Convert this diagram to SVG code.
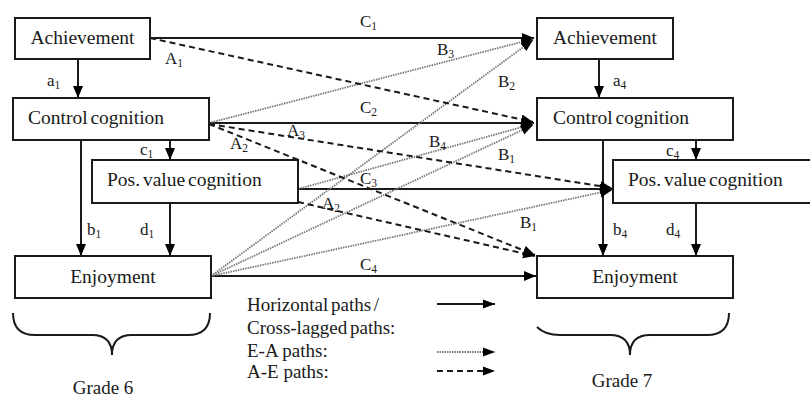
<svg xmlns="http://www.w3.org/2000/svg" width="810" height="397" viewBox="0 0 810 397" font-family="'Times New Roman', 'Liberation Serif', 'DejaVu Serif', serif">
<style>
text{font-family:'Times New Roman','Liberation Serif',serif}
.box{fill:#fff;stroke:#1a1a1a;stroke-width:2}
.lbl{font-size:19.5px;fill:#1a1a1a}
.pl{font-size:17px;fill:#1a1a1a}
.sub{font-size:11.5px}
.leg{font-size:19px;fill:#1a1a1a}
.solid{stroke:#1a1a1a;stroke-width:2;fill:none;marker-end:url(#ah)}
.ea{stroke:#777;stroke-width:1.8;stroke-dasharray:1.5 1;fill:none;marker-end:url(#ah)}
.ae{stroke:#1a1a1a;stroke-width:2;stroke-dasharray:6 4;fill:none;marker-end:url(#ah)}
.brace{stroke:#1a1a1a;stroke-width:2;fill:none}
</style>
<defs>
<marker id="ah" markerUnits="userSpaceOnUse" markerWidth="13" markerHeight="11" refX="12" refY="5" orient="auto">
<path d="M0,0 L12,5 L0,10 z" fill="#000"/>
</marker>
<marker id="ahs" markerUnits="userSpaceOnUse" markerWidth="13" markerHeight="11" refX="12" refY="5" orient="auto">
<path d="M0,0.5 L12,5 L0,9.5 z" fill="#000"/>
</marker>
</defs>

<g id="connectors">
<line class="solid" x1="78" y1="59" x2="78" y2="98"/>
<line class="solid" x1="170" y1="140" x2="170" y2="160"/>
<line class="solid" x1="81" y1="140" x2="81" y2="256"/>
<line class="solid" x1="170" y1="203" x2="170" y2="256"/>
<line class="solid" x1="599" y1="59" x2="599" y2="98"/>
<line class="solid" x1="696" y1="140" x2="696" y2="160"/>
<line class="solid" x1="603" y1="140" x2="603" y2="256"/>
<line class="solid" x1="696" y1="203" x2="696" y2="256"/>
<line class="solid" x1="150" y1="38" x2="534" y2="38"/>
<line class="solid" x1="209" y1="123" x2="534" y2="123"/>
<line class="solid" x1="298" y1="189" x2="612" y2="189"/>
<line class="solid" x1="211" y1="276" x2="536" y2="276"/>
<line class="ea" x1="209" y1="123" x2="533" y2="39"/>
<line class="ea" x1="211" y1="276" x2="533" y2="40"/>
<line class="ea" x1="298" y1="189" x2="533" y2="124"/>
<line class="ea" x1="211" y1="276" x2="533" y2="125"/>
<line class="ea" x1="211" y1="276" x2="612" y2="190"/>
<line class="ae" x1="150" y1="38" x2="533" y2="122"/>
<line class="ae" x1="209" y1="124" x2="612" y2="188"/>
<line class="ae" x1="209" y1="124" x2="535" y2="255"/>
<line class="ae" x1="298" y1="202" x2="535" y2="256"/>
</g>

<g id="node-achievement-6"><rect class="box" x="15" y="18" width="135" height="41"/><text class="lbl" x="82.5" y="44" text-anchor="middle">Achievement</text></g>
<g id="node-control-6"><rect class="box" x="13" y="98" width="196" height="42"/><text class="lbl" x="28" y="124" word-spacing="-2">Control cognition</text></g>
<g id="node-posvalue-6"><rect class="box" x="92" y="160" width="206" height="43"/><text class="lbl" x="107" y="186" word-spacing="-2">Pos. value cognition</text></g>
<g id="node-enjoyment-6"><rect class="box" x="15" y="256" width="196" height="42"/><text class="lbl" x="113" y="283" text-anchor="middle">Enjoyment</text></g>

<g id="node-achievement-7"><rect class="box" x="537" y="18" width="136" height="41"/><text class="lbl" x="605" y="44" text-anchor="middle">Achievement</text></g>
<g id="node-control-7"><rect class="box" x="537" y="98" width="196" height="42"/><text class="lbl" x="553" y="124" word-spacing="-2">Control cognition</text></g>
<g id="node-posvalue-7"><rect class="box" x="613" y="160" width="200" height="43"/><text class="lbl" x="628" y="186" word-spacing="-2">Pos. value cognition</text></g>
<g id="node-enjoyment-7"><rect class="box" x="537" y="256" width="196" height="42"/><text class="lbl" x="635" y="283" text-anchor="middle">Enjoyment</text></g>

<g id="path-labels">
<text class="pl" x="47" y="86">a<tspan class="sub" dy="3">1</tspan></text>
<text class="pl" x="140" y="155">c<tspan class="sub" dy="3">1</tspan></text>
<text class="pl" x="87" y="235">b<tspan class="sub" dy="3">1</tspan></text>
<text class="pl" x="140" y="235">d<tspan class="sub" dy="3">1</tspan></text>
<text class="pl" x="613" y="86">a<tspan class="sub" dy="3">4</tspan></text>
<text class="pl" x="666" y="156">c<tspan class="sub" dy="3">4</tspan></text>
<text class="pl" x="613" y="235">b<tspan class="sub" dy="3">4</tspan></text>
<text class="pl" x="666" y="235">d<tspan class="sub" dy="3">4</tspan></text>
<text class="pl" x="360" y="27">C<tspan class="sub" dy="3">1</tspan></text>
<text class="pl" x="360" y="113">C<tspan class="sub" dy="3">2</tspan></text>
<text class="pl" x="360" y="184">C<tspan class="sub" dy="3">3</tspan></text>
<text class="pl" x="360" y="270">C<tspan class="sub" dy="3">4</tspan></text>
<text class="pl" x="165" y="64">A<tspan class="sub" dy="3">1</tspan></text>
<text class="pl" x="230" y="149">A<tspan class="sub" dy="3">2</tspan></text>
<text class="pl" x="287" y="136">A<tspan class="sub" dy="3">3</tspan></text>
<text class="pl" x="322" y="209">A<tspan class="sub" dy="3">2</tspan></text>
<text class="pl" x="437" y="55">B<tspan class="sub" dy="3">3</tspan></text>
<text class="pl" x="498" y="87">B<tspan class="sub" dy="3">2</tspan></text>
<text class="pl" x="429" y="147">B<tspan class="sub" dy="3">4</tspan></text>
<text class="pl" x="498" y="160">B<tspan class="sub" dy="3">1</tspan></text>
<text class="pl" x="520" y="228">B<tspan class="sub" dy="3">1</tspan></text>
</g>

<g id="legend">
<text class="leg" x="247" y="311" word-spacing="-2">Horizontal paths /</text>
<text class="leg" x="247" y="334" word-spacing="-2">Cross-lagged paths:</text>
<text class="leg" x="247" y="357">E-A paths:</text>
<text class="leg" x="247" y="378">A-E paths:</text>
<line x1="437" y1="304" x2="495" y2="304" stroke="#1a1a1a" stroke-width="2" marker-end="url(#ahs)"/>
<line x1="437" y1="352" x2="495" y2="352" stroke="#777" stroke-width="1.8" stroke-dasharray="1.5 1" marker-end="url(#ahs)"/>
<line x1="437" y1="371" x2="495" y2="371" stroke="#1a1a1a" stroke-width="2" stroke-dasharray="6 4" marker-end="url(#ahs)"/>
</g>

<g id="grade-6">
<path class="brace" d="M13,313 Q13,335 35,335 L92,335 Q112,335 112,355 Q112,335 132,335 L188,335 Q210,335 210,313"/>
<text class="leg" x="103" y="394" text-anchor="middle">Grade 6</text>
</g>
<g id="grade-7">
<path class="brace" d="M537,327 Q545,335 560,335 L610,335 Q630,335 630,355 Q630,335 650,335 L707,335 Q729,335 729,313"/>
<text class="leg" x="622" y="387" text-anchor="middle">Grade 7</text>
</g>
</svg>
